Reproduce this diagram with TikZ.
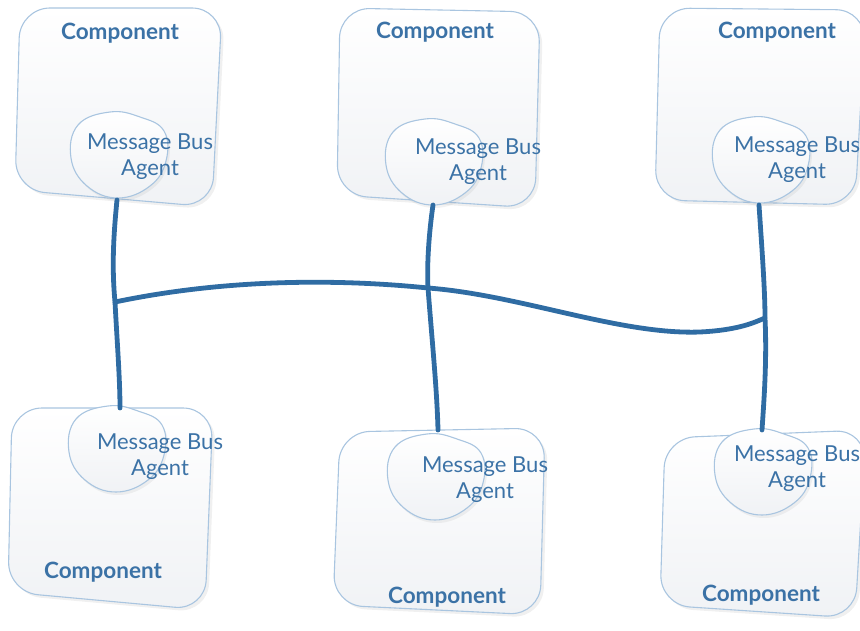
\documentclass[tikz,border=0pt]{standalone}
\usepackage{fontspec}
\setmainfont{Lato}
\usetikzlibrary{shadows}
\definecolor{busblue}{HTML}{2F6CA3}
\definecolor{txtblue}{HTML}{3B72A6}
\definecolor{rim}{HTML}{A9C5E0}
\definecolor{paper}{HTML}{FFFFFF}
\definecolor{paper2}{HTML}{F0F2F5}
\tikzset{
  compbox/.style={draw=rim, line width=1.1pt, rounded corners=30pt,
                  top color=paper, bottom color=paper2,
                  drop shadow={opacity=0.12, shadow xshift=3pt, shadow yshift=-3pt}},
  blob/.style={draw=rim, line width=1.1pt, top color=paper, bottom color=paper2,
               drop shadow={opacity=0.10, shadow xshift=2pt, shadow yshift=-3pt}},
  ctitle/.style={font=\fontsize{22.5}{27}\selectfont\bfseries, text=txtblue},
  atext/.style={font=\fontsize{22}{26}\selectfont, text=txtblue, align=center, inner sep=0pt},
  bus/.style={draw=busblue, line width=4.8pt, line cap=round},
}
\newcommand{\agentblob}[1]{%
  \path[blob, shift={(#1)}] plot[smooth cycle, tension=0.7] coordinates
    {(-40,-30) (-8,-43) (22,-38) (46,-24) (48,6) (32,31) (0,43) (-31,31) (-47,3)};}

\begin{document}
\begin{tikzpicture}[x=1pt, y=-1pt]
\useasboundingbox (0,0) rectangle (860,631);
% component frames
\path[compbox] (20,8) -- (222,8) -- (212,207) -- (15,190) -- cycle;
\path[compbox] (340,8) -- (540,12) -- (535,208) -- (337,195) -- cycle;
\path[compbox] (660,8) -- (866,10) -- (855,205) -- (655,200) -- cycle;
\path[compbox] (12,408) -- (213,408) -- (205,610) -- (8,592) -- cycle;
\path[compbox] (340,432) -- (545,428) -- (540,615) -- (333,605) -- cycle;
\path[compbox] (665,438) -- (866,430) -- (855,618) -- (660,605) -- cycle;
% titles
\node[ctitle] (c1) at (120,33) {Component};
\node[ctitle] (c2) at (435,32) {Component};
\node[ctitle] (c3) at (777,32) {Component};
\node[ctitle] (c4) at (103,572) {Component};
\node[ctitle] (c5) at (447,597) {Component};
\node[ctitle] (c6) at (761,595) {Component};
% agents
\agentblob{118,155}
\agentblob{433,162}
\agentblob{760,160}
\agentblob{116,449}
\agentblob{435,477}
\agentblob{762,472}
\node[atext] (a1) at (150,157) {Message Bus\\Agent};
\node[atext] (a2) at (478,162) {Message Bus\\Agent};
\node[atext] (a3) at (797,160) {Message Bus\\Agent};
\node[atext] (a4) at (160,457) {Message Bus\\Agent};
\node[atext] (a5) at (485,480) {Message Bus\\Agent};
\node[atext] (a6) at (797,469) {Message Bus\\Agent};
% bus attach points and junctions
\coordinate (t1) at (117,200);
\coordinate (t2) at (433,205);
\coordinate (t3) at (759,205);
\coordinate (b1) at (120,408);
\coordinate (b2) at (438,430);
\coordinate (b3) at (762,430);
\coordinate (j1) at (115,302);
\coordinate (j2) at (428,288);
\coordinate (j3) at (765,318);
% message bus
\draw[bus] (j1) .. controls (220,280) and (330,278) .. (j2)
  .. controls (520,295) and (620,335) .. (700,332)
  .. controls (740,330) and (755,322) .. (j3);
\draw[bus] (t1) .. controls (113,240) and (112,270) .. (j1)
  .. controls (117,340) and (120,380) .. (b1);
\draw[bus] (t2) .. controls (428,240) and (427,270) .. (j2)
  .. controls (432,340) and (437,390) .. (b2);
\draw[bus] (t3) .. controls (762,250) and (765,290) .. (j3)
  .. controls (767,360) and (764,400) .. (b3);
\end{tikzpicture}
\end{document}
